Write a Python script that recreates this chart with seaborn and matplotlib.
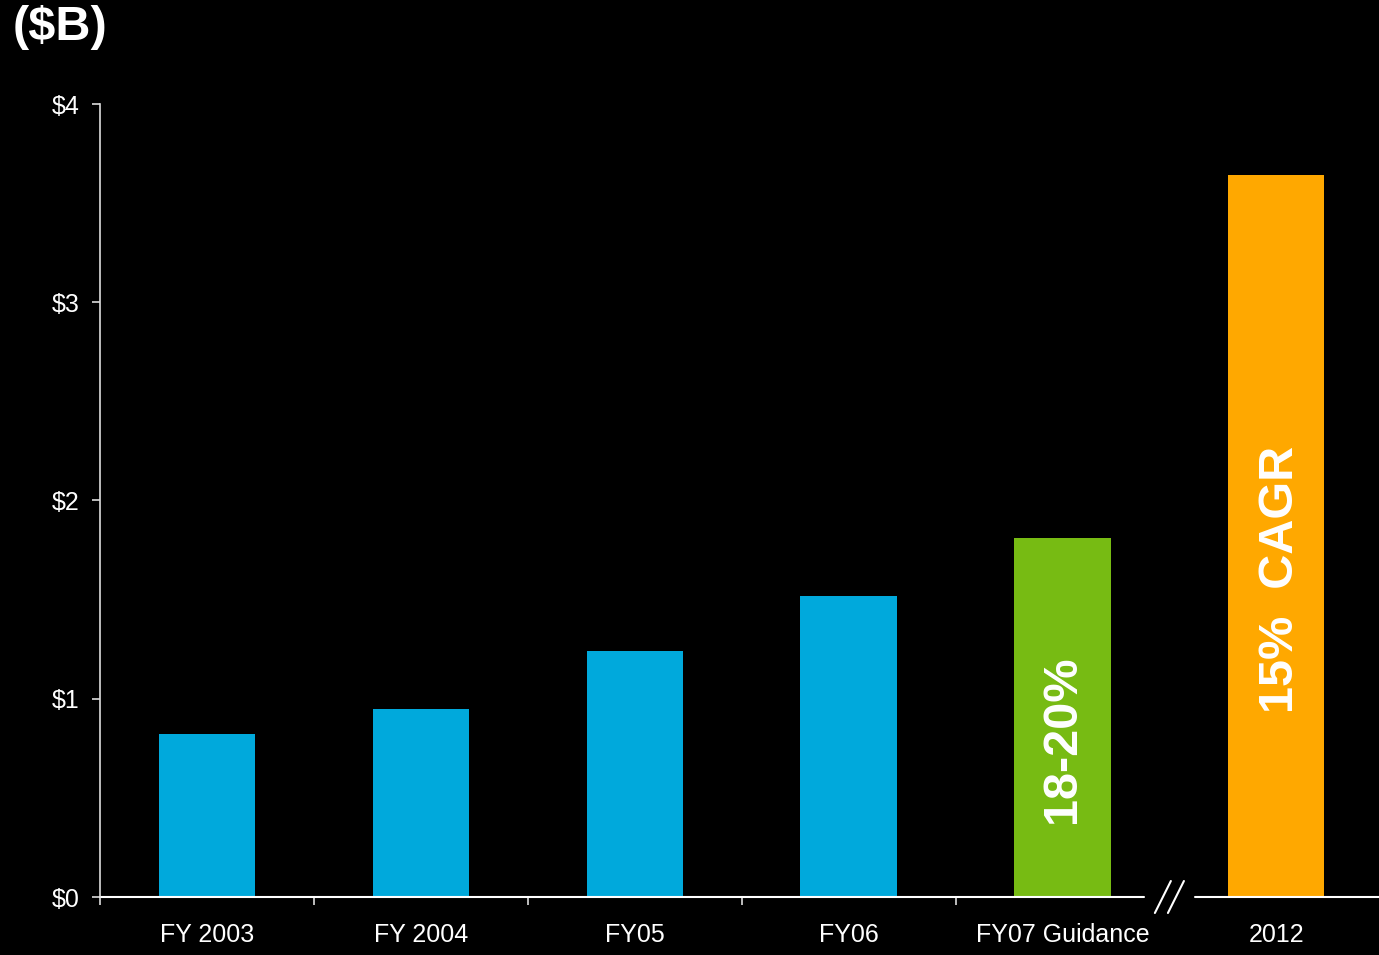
import numpy as np
import pandas as pd
import matplotlib
matplotlib.use('Agg')
import matplotlib.pyplot as plt
import matplotlib.transforms as mtransforms
import seaborn as sns

categories = ['FY 2003', 'FY 2004', 'FY05', 'FY06', 'FY07 Guidance', '2012']
values = [0.82, 0.95, 1.24, 1.52, 1.81, 3.64]
kinds = ['actual', 'actual', 'actual', 'actual', 'guidance', 'target']
bar_labels = ['', '', '', '', '18-20%', '15%  CAGR']
yticks = [0, 1, 2, 3, 4]
ytick_labels = ['$0', '$1', '$2', '$3', '$4']

palette = {'actual': '#00A9DC', 'guidance': '#77BB13', 'target': '#FFA800'}

sns.set_style('dark')
plt.rcParams['font.family'] = ['Liberation Sans', 'DejaVu Sans']

df = pd.DataFrame({'cat': categories, 'val': values, 'kind': kinds})

fig = plt.figure(figsize=(13.79, 9.55), dpi=100, facecolor='black')
ax = fig.add_axes([100 / 1379, 58 / 955, 1 - 100 / 1379, 793 / 955])
ax.set_facecolor('black')

sns.barplot(data=df, x='cat', y='val', hue='kind', palette=palette,
            dodge=False, width=0.45, saturation=1, legend=False,
            edgecolor='none', linewidth=0, ax=ax)

ax.set_ylim(0, 4)
ax.set_xlim(-0.5, 5.48)
ax.set_yticks(yticks)
ax.set_yticklabels(ytick_labels)
ax.set_xlabel('')
ax.set_ylabel('')
ax.grid(False)

# ticks at category boundaries, labels centred under bars
ax.set_xticks(np.arange(len(categories)))
ax.set_xticklabels(categories)
ax.tick_params(axis='x', which='major', bottom=True, length=0, labelcolor='white',
               labelsize=18, pad=19)
ax.set_xticks(np.arange(len(categories) - 1) - 0.5, minor=True)
ax.tick_params(axis='x', which='minor', bottom=True, length=6, direction='out',
               color='#dddddd', width=1.2)
ax.tick_params(axis='y', left=True, length=6, direction='out', color='#dddddd', width=1.2,
               labelcolor='white', labelsize=18, pad=9)

for s in ['top', 'right', 'bottom']:
    ax.spines[s].set_visible(False)
ax.spines['left'].set_color('#dddddd')
ax.spines['left'].set_linewidth(1.2)

# broken x axis between FY07 and 2012
x0, x1 = ax.get_xlim()
brk_a = (4.38 - x0) / (x1 - x0)
brk_b = (4.62 - x0) / (x1 - x0)
ax.axhline(0, xmin=0, xmax=brk_a, color='white', lw=1.5, clip_on=False)
ax.axhline(0, xmin=brk_b, xmax=1, color='white', lw=1.5, clip_on=False)
# two thin slashes, sized in points around the break centre
for dx in (-4.7, 4.7):
    tr = mtransforms.offset_copy(ax.transData, fig=fig, x=dx, y=0, units='points')
    ax.plot([4.5, 4.5], [0, 0], alpha=0)  # anchor
    slash = matplotlib.lines.Line2D([0, 0], [0, 0])
    base = ax.transData.transform((4.5, 0))
    px = base[0] + dx * fig.dpi / 72
    py = base[1]
    ax.add_line(matplotlib.lines.Line2D([px - 8, px + 8], [py - 16, py + 16],
                                        transform=None, color='white', lw=1.5,
                                        clip_on=False))

for i, lbl in enumerate(bar_labels):
    if lbl:
        ax.text(i + (0.02 if i == 5 else 0), values[i] * 0.44, lbl, rotation=90,
                color='white', fontsize=35, fontweight='bold', ha='center', va='center')

fig.text(13 / 1379, 1 - 28 / 955, '($B)', color='white', fontsize=35,
         fontweight='bold', ha='left', va='center')

fig.savefig('out.png', dpi=100, facecolor='black')
